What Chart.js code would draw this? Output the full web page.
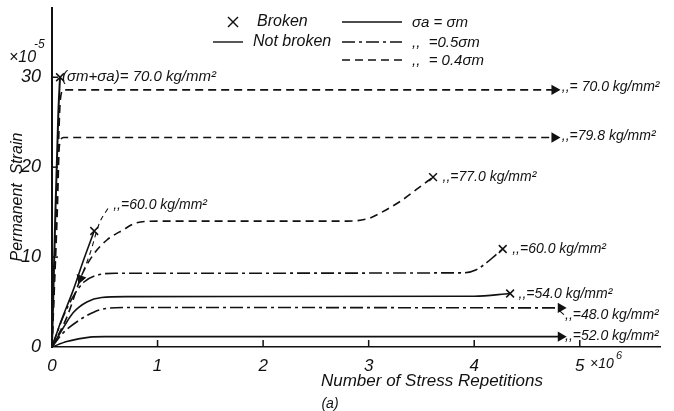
<!DOCTYPE html>
<html>
<head>
<meta charset="utf-8">
<script src="https://cdn.jsdelivr.net/npm/chart.js@4.4.1/dist/chart.umd.min.js"></script>
<style>
  html, body { margin: 0; padding: 0; background: #fff; }
  #wrap { width: 674px; height: 411px; position: relative; }
</style>
</head>
<body>
<div id="wrap"><canvas id="grafica"></canvas></div>
<script>
// Ejes (x en 10^6 repeticiones, y en 10^-5)
const xTicks = [0, 1, 2, 3, 4, 5];
const yTicks = [0, 10, 20, 30];

// σa = σm (linea continua)
const rot70X = [0, 0.03, 0.06, 0.076];
const rot70Y = [0, 14, 26, 30];
const rot60X = [0, 0.08, 0.2, 0.3, 0.4];
const rot60Y = [0, 2.7, 6.3, 9.7, 12.9];
const rot54X = [0, 0.1, 0.2, 0.33, 0.47, 0.7, 4.0, 4.34];
const rot54Y = [0, 2.0, 3.8, 5.0, 5.5, 5.6, 5.65, 5.95];
const sin52X = [0, 0.14, 0.25, 0.36, 0.5, 4.82];
const sin52Y = [0, 0.6, 0.9, 1.1, 1.15, 1.15];

// σa = 0.5σm (raya-punto)
const rot60bX = [0, 0.1, 0.2, 0.3, 0.47, 0.6, 3.9, 4.02, 4.12, 4.2, 4.27];
const rot60bY = [0, 3.2, 5.6, 7.2, 8.1, 8.2, 8.25, 8.6, 9.4, 10.2, 10.9];
const sin48X = [0, 0.1, 0.26, 0.4, 0.52, 0.7, 4.82];
const sin48Y = [0, 1.5, 3.0, 3.9, 4.3, 4.4, 4.35];

// σa = 0.4σm (rayas)
const sin70X = [0, 0.05, 0.08, 0.11, 4.76];
const sin70Y = [0, 18, 27.6, 28.6, 28.6];
const sin798X = [0, 0.05, 0.07, 0.11, 4.76];
const sin798Y = [0, 15, 22.4, 23.3, 23.3];
const rot77X = [0, 0.14, 0.29, 0.4, 0.52, 0.67, 0.8, 1.0, 2.8, 3.0, 3.11, 3.3, 3.45, 3.61];
const rot77Y = [0, 3.3, 8.2, 10.4, 11.9, 13.0, 13.8, 14.0, 14.0, 14.3, 14.9, 16.2, 17.5, 18.9];

// Flechas de referencia de las etiquetas
const guia60X = [0.53, 0.45, 0.36, 0.27];
const guia60Y = [15.4, 13.8, 10.4, 7.6];
const guia48X = [4.8, 4.85];
const guia48Y = [4.1, 3.6];

// Etiquetas de las curvas
const etiquetas = [
  "(σm+σa)= 70.0 kg/mm²", ",,= 70.0 kg/mm²", ",,=79.8 kg/mm²", ",,=77.0 kg/mm²",
  ",,=60.0 kg/mm²", ",,=60.0 kg/mm²", ",,=54.0 kg/mm²", ",,=48.0 kg/mm²", ",,=52.0 kg/mm²"
];
const etiquetasX = [0.095, 4.83, 4.83, 3.7, 0.58, 4.36, 4.42, 4.86, 4.86];
const etiquetasY = [30, 28.9, 23.5, 18.9, 15.8, 10.9, 5.9, 3.55, 1.2];

const TINTA = "#111";
const FUENTE = "'Liberation Sans', sans-serif";
const CONTINUA = [];
const RAYA_PUNTO = [13, 4, 3, 4];
const RAYAS = [8, 5];

function serie(xs, ys, dash, fin, ancho) {
  const n = xs.length;
  return {
    data: xs.map((x, i) => ({ x, y: ys[i] })),
    borderColor: TINTA,
    backgroundColor: TINTA,
    borderWidth: ancho || 1.6,
    borderDash: dash,
    cubicInterpolationMode: "monotone",
    showLine: true,
    pointRadius: xs.map((_, i) => (i === n - 1 && fin ? (fin === "x" ? 5.5 : 4.5) : 0)),
    pointStyle: fin === "x" ? "crossRot" : "triangle",
    rotation: fin === "flecha" ? 90 : (fin === "guia" ? 200 : 0),
    pointBorderWidth: 1.5,
    pointBorderColor: TINTA,
    pointBackgroundColor: TINTA
  };
}

const datasets = [
  serie(rot70X, rot70Y, CONTINUA, "x", 2),
  serie(rot60X, rot60Y, CONTINUA, "x"),
  serie(rot54X, rot54Y, CONTINUA, "x"),
  serie(sin52X, sin52Y, CONTINUA, "flecha"),
  serie(rot60bX, rot60bY, RAYA_PUNTO, "x"),
  serie(sin48X, sin48Y, RAYA_PUNTO, "flecha"),
  serie(sin70X, sin70Y, RAYAS, "flecha"),
  serie(sin798X, sin798Y, RAYAS, "flecha"),
  serie(rot77X, rot77Y, RAYAS, "x"),
  serie(guia60X, guia60Y, [5, 4], "guia", 1.1),
  serie(guia48X, guia48Y, CONTINUA, null, 1.1)
];

function texto(ctx, t, x, y, size, align) {
  ctx.font = `italic ${size}px ${FUENTE}`;
  ctx.textAlign = align || "left";
  ctx.textBaseline = "middle";
  ctx.fillText(t, x, y);
}

function linea(ctx, x1, y1, x2, y2, dash) {
  ctx.save();
  ctx.setLineDash(dash);
  ctx.beginPath();
  ctx.moveTo(x1, y1);
  ctx.lineTo(x2, y2);
  ctx.stroke();
  ctx.restore();
}

// Texto, marcas de escala y leyenda
const extras = {
  id: "extras",
  afterDraw(chart) {
    const ctx = chart.ctx;
    const sx = chart.scales.x, sy = chart.scales.y;
    ctx.save();
    ctx.fillStyle = TINTA;
    ctx.strokeStyle = TINTA;
    ctx.lineWidth = 1.5;

    // marcas hacia dentro
    xTicks.slice(1).forEach(v => {
      const px = sx.getPixelForValue(v);
      linea(ctx, px, sy.bottom, px, sy.bottom - 7, []);
    });
    yTicks.slice(1).forEach(v => {
      const py = sy.getPixelForValue(v);
      linea(ctx, sx.left, py, sx.left + 6, py, []);
    });

    etiquetas.forEach((t, i) => {
      texto(ctx, t, sx.getPixelForValue(etiquetasX[i]), sy.getPixelForValue(etiquetasY[i]), i === 0 ? 15 : 14);
    });

    // unidades
    texto(ctx, "×10", 9, 58, 16);
    texto(ctx, "-5", 34, 45, 12);
    texto(ctx, "×10", 590, 364, 14);
    texto(ctx, "6", 616, 356, 11);

    // titulos
    texto(ctx, "Number of Stress Repetitions", 432, 381, 17, "center");
    texto(ctx, "(a)", 330, 404, 14, "center");
    ctx.save();
    ctx.translate(18, 197);
    ctx.rotate(-Math.PI / 2);
    texto(ctx, "Permanent  Strain", 0, 0, 16, "center");
    ctx.restore();

    // leyenda
    ctx.lineWidth = 1.4;
    linea(ctx, 228, 17, 238, 27, []);
    linea(ctx, 238, 17, 228, 27, []);
    texto(ctx, "Broken", 257, 22, 16);
    linea(ctx, 213, 42, 243, 42, []);
    texto(ctx, "Not broken", 253, 42, 16);
    linea(ctx, 342, 22, 402, 22, CONTINUA);
    texto(ctx, "σa = σm", 412, 23, 15);
    linea(ctx, 342, 42, 402, 42, RAYA_PUNTO);
    texto(ctx, ",,  =0.5σm", 412, 43, 15);
    linea(ctx, 342, 60, 402, 60, RAYAS);
    texto(ctx, ",,  = 0.4σm", 412, 61, 15);
    ctx.restore();
  }
};

new Chart(document.getElementById("grafica"), {
  type: "scatter",
  data: { datasets },
  options: {
    responsive: true,
    maintainAspectRatio: false,
    animation: false,
    layout: { padding: { left: 0, top: 8, right: 14, bottom: 0 } },
    plugins: { legend: { display: false }, tooltip: { enabled: false } },
    scales: {
      x: {
        type: "linear",
        min: 0,
        max: 5.76,
        afterFit: s => { s.height = 64; s.paddingLeft = 0; s.paddingRight = 0; },
        afterBuildTicks: s => { s.ticks = xTicks.map(v => ({ value: v })); },
        grid: { drawOnChartArea: false, drawTicks: false },
        border: { display: true, color: TINTA, width: 1.6 },
        ticks: { color: TINTA, padding: 9, font: { family: FUENTE, size: 17, style: "italic" } }
      },
      y: {
        type: "linear",
        min: 0,
        max: 37.7,
        afterFit: s => { s.width = 52; s.paddingTop = 0; s.paddingBottom = 0; },
        afterBuildTicks: s => { s.ticks = yTicks.map(v => ({ value: v })); },
        grid: { drawOnChartArea: false, drawTicks: false },
        border: { display: true, color: TINTA, width: 2 },
        ticks: { color: TINTA, padding: 11, font: { family: FUENTE, size: 18, style: "italic" } }
      }
    }
  },
  plugins: [extras]
});
</script>
</body>
</html>
